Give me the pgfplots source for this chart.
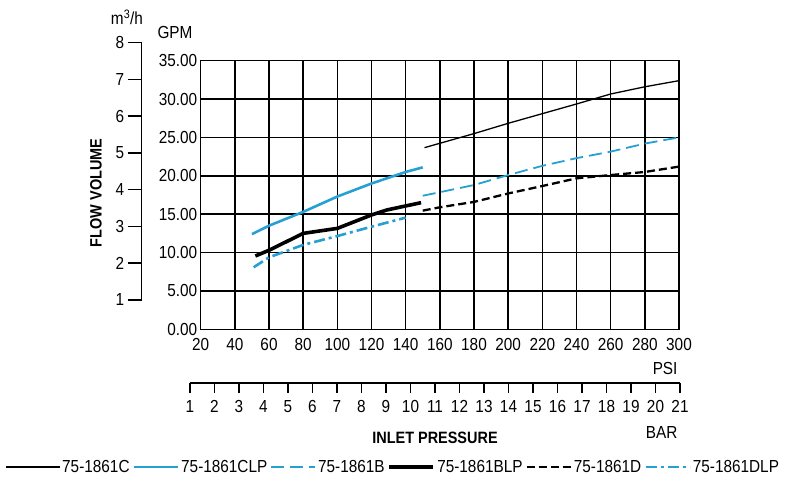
\documentclass[border=0pt]{standalone}
\usepackage{fontspec}
\setmainfont{Liberation Sans}[FakeStretch=0.88]
\usepackage{pgfplots}
\pgfplotsset{compat=1.18}
\definecolor{fblue}{RGB}{38,160,210}
\pgfplotsset{longleg/.style={legend image code/.code={\draw[##1] (0bp,0bp) -- (54bp,0bp);}}}

\begin{document}
\begin{tikzpicture}[font=\fontsize{17.5}{21}\selectfont]
\path[use as bounding box] (0bp,0bp) rectangle (787bp,483bp);

% main chart, GPM against PSI
\begin{axis}[
  at={(200.7bp,153.7bp)}, anchor=south west,
  scale only axis, width=478.3bp, height=268.6bp,
  xmin=20, xmax=300, ymin=0, ymax=35,
  xtick={20,40,...,300}, ytick={0,5,...,35},
  grid=major, major grid style={black,line width=1.5bp},
  axis line style={black,line width=1.5bp},
  major tick length=0pt,
  /pgf/number format/assume math mode=true,
  xticklabel style={yshift=-6bp},
  yticklabel style={/pgf/number format/fixed,/pgf/number format/fixed zerofill,/pgf/number format/precision=2},
  legend columns=6,
  legend style={draw=none, fill=none, at={(0.402,-0.513)}, anchor=center,
    inner xsep=0pt,
    nodes={inner xsep=2bp},
    /tikz/every even column/.append style={column sep=1bp}},
  legend image code/.code={\draw[#1] (0bp,0bp) -- (44bp,0bp);},
]
\addplot[black, line width=1.3bp, longleg] coordinates {
 (151,23.67) (180,25.5) (200,26.84) (220,28.1) (240,29.36) (260,30.66) (280,31.6) (300,32.4)};
\addlegendentry{75-1861C}
\addplot[fblue, line width=2.6bp] coordinates {
 (50,12.4) (60,13.5) (80,15.3) (100,17.3) (120,19.0) (140,20.5) (150,21.1)};
\addlegendentry{75-1861CLP}
\addplot[fblue, line width=1.8bp, dash pattern=on 13bp off 6bp] coordinates {
 (150,17.4) (180,18.8) (200,20.1) (220,21.3) (240,22.3) (260,23.15) (280,24.2) (300,25.0)};
\addlegendentry{75-1861B}
\addplot[black, line width=3.6bp] coordinates {
 (52,9.55) (60,10.3) (80,12.5) (100,13.15) (120,14.9) (129,15.55) (149,16.5)};
\addlegendentry{75-1861BLP}
\addplot[black, line width=2.3bp, dash pattern=on 8bp off 4bp] coordinates {
 (150,15.46) (160,15.9) (180,16.6) (200,17.7) (220,18.67) (240,19.67) (260,20.1) (280,20.5) (300,21.2)};
\addlegendentry{75-1861D}
\addplot[fblue, line width=2.6bp, dash pattern=on 11bp off 4bp on 3bp off 4bp] coordinates {
 (51,8.08) (60,9.38) (80,11.0) (100,12.15) (120,13.37) (140,14.55)};
\addlegendentry{75-1861DLP}
\end{axis}

% m3/h scale
\begin{axis}[
  at={(141.7bp,183bp)}, anchor=south west,
  scale only axis, width=10bp, height=257.3bp,
  xmin=0, xmax=1, ymin=1, ymax=8,
  axis y line*=left, axis x line=none,
  ytick={1,...,8}, tick align=outside, major tick length=14bp,
  axis line style={black,line width=1.5bp},
  every tick/.style={black,line width=1.5bp},
  /pgf/number format/assume math mode=true,
]
\end{axis}

% BAR scale
\begin{axis}[
  at={(190bp,100bp)}, anchor=south west,
  scale only axis, width=490bp, height=10bp,
  xmin=1, xmax=21, ymin=0, ymax=1,
  axis x line*=bottom, axis y line=none,
  xtick={1,...,21}, tick align=outside, major tick length=10bp,
  axis line style={black,line width=1.5bp},
  every tick/.style={black,line width=1.5bp},
  xticklabel style={yshift=-4bp},
  /pgf/number format/assume math mode=true,
]
\end{axis}

\node at (127bp,466bp) {m\textsuperscript{3}/h};
\node at (175bp,450bp) {GPM};
\node[rotate=90, font=\fontsize{16.5}{19}\selectfont\bfseries] at (96bp,290bp) {FLOW VOLUME};
\node[anchor=east] at (681bp,115bp) {PSI};
\node[anchor=east] at (681bp,50bp) {BAR};
\node[font=\fontsize{16.5}{19}\selectfont\bfseries] at (435bp,45bp) {INLET PRESSURE};
\end{tikzpicture}
\end{document}
